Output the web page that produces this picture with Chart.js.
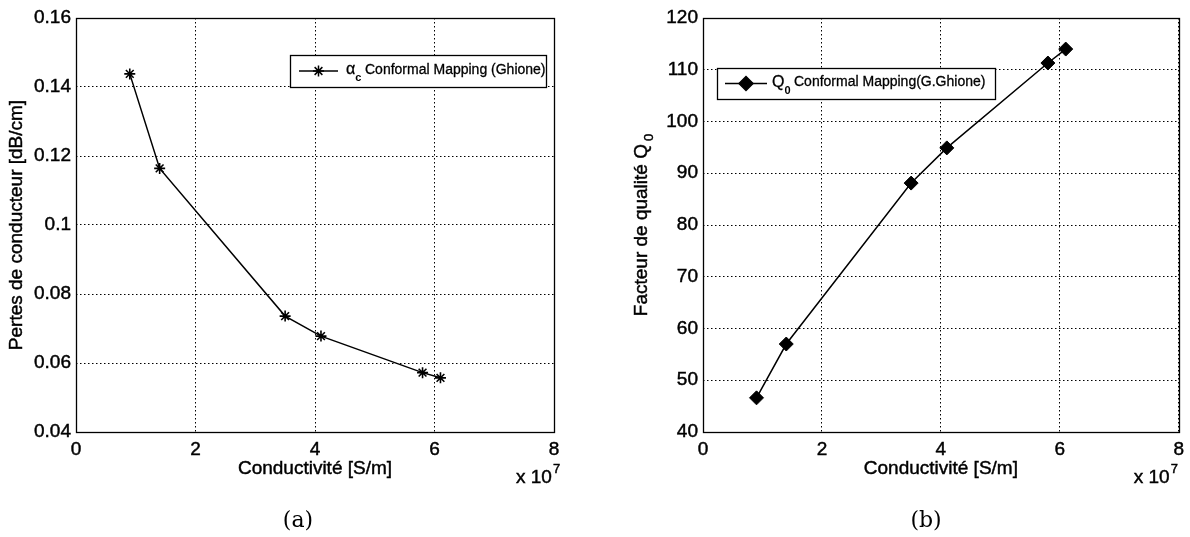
<!DOCTYPE html>
<html>
<head>
<meta charset="utf-8">
<script src="https://cdn.jsdelivr.net/npm/chart.js@4/dist/chart.umd.min.js"></script>
<style>
  html, body { margin: 0; padding: 0; background: #fff; }
  #wrap { position: relative; width: 1190px; height: 537px; overflow: hidden; background: #fff; }
  canvas { position: absolute; top: 0; }
  #c1 { left: 0; }
  #c2 { left: 600px; }
</style>
</head>
<body>
<div id="wrap">
  <canvas id="c1" width="600" height="537"></canvas>
  <canvas id="c2" width="590" height="537"></canvas>
</div>
<script>
// ---- data (conductivity in units of 1e7 S/m) ----
const conductivity = [0.9, 1.4, 3.5, 4.1, 5.8, 6.1];
const conductorLoss = [0.1438, 0.1164, 0.0736, 0.0678, 0.0572, 0.0557];   // dB/cm
const qualityFactor = [46.6, 57.0, 88.1, 94.9, 111.3, 114.0];              // Q0
const xTicks = [0, 2, 4, 6, 8];
const lossTicks = [0.04, 0.06, 0.08, 0.1, 0.12, 0.14, 0.16];
const qTicks = [40, 50, 60, 70, 80, 90, 100, 110, 120];

const FONT = "'Liberation Sans', Arial, sans-serif";
const SERIF = "'DejaVu Serif', 'Liberation Serif', serif";
const STROKE = 0.45;

function pts(xs, ys) { return xs.map((x, i) => ({ x: x, y: ys[i] })); }

function text(ctx, s, x, y) {
  ctx.fillText(s, x, y);
  ctx.strokeText(s, x, y);
}

function extrasPlugin(cfg) {
  return {
    id: 'extras',
    afterDraw(chart) {
      const ctx = chart.ctx;
      const a = chart.chartArea;
      ctx.save();
      // frame
      ctx.strokeStyle = '#000';
      ctx.lineWidth = 1.3;
      ctx.strokeRect(Math.round(a.left) + 0.5, Math.round(a.top) + 0.5,
                     Math.round(a.right - a.left), Math.round(a.bottom - a.top));
      ctx.fillStyle = '#000';
      ctx.lineWidth = STROKE;
      // x title
      ctx.font = "19px " + FONT;
      ctx.textAlign = 'center';
      ctx.textBaseline = 'middle';
      text(ctx, 'Conductivité [S/m]', (a.left + a.right) / 2, a.bottom + 37);
      // x 10^7
      ctx.textAlign = 'left';
      ctx.font = "19px " + FONT;
      text(ctx, 'x 10', a.right + cfg.expDx, a.bottom + 46);
      const w = ctx.measureText('x 10').width;
      ctx.font = "13px " + FONT;
      text(ctx, '7', a.right + cfg.expDx + w + 1, a.bottom + 37);
      // panel label
      ctx.font = "22px " + SERIF;
      ctx.textAlign = 'center';
      ctx.fillText(cfg.panel, cfg.panelX, 521);
      // y title (rotated)
      ctx.save();
      ctx.translate(cfg.yTitleX, (a.top + a.bottom) / 2);
      ctx.rotate(-Math.PI / 2);
      ctx.font = "19px " + FONT;
      ctx.textBaseline = 'middle';
      ctx.lineWidth = STROKE;
      if (cfg.ySub) {
        const mainW = ctx.measureText(cfg.yTitle).width;
        ctx.font = "13px " + FONT;
        const subW = ctx.measureText(cfg.ySub).width;
        const total = mainW + 3 + subW;
        ctx.textAlign = 'left';
        ctx.font = "19px " + FONT;
        text(ctx, cfg.yTitle, -total / 2, 0);
        ctx.font = "13px " + FONT;
        text(ctx, cfg.ySub, -total / 2 + mainW + 3, 7);
      } else {
        ctx.textAlign = 'center';
        text(ctx, cfg.yTitle, 0, 0);
      }
      ctx.restore();
      // legend
      const L = cfg.legend;
      ctx.fillStyle = '#fff';
      ctx.fillRect(L.x, L.y, L.w, L.h);
      ctx.strokeStyle = '#000';
      ctx.lineWidth = 1.3;
      ctx.strokeRect(L.x + 0.5, L.y + 0.5, L.w, L.h);
      const cy = L.y + L.h / 2;
      ctx.lineWidth = 1.5;
      ctx.beginPath();
      ctx.moveTo(L.x + L.lineStart, cy);
      ctx.lineTo(L.x + L.lineEnd, cy);
      ctx.stroke();
      const ds = chart.data.datasets[0];
      ctx.fillStyle = '#000';
      Chart.helpers.drawPoint(ctx, {
        pointStyle: ds.pointStyle, radius: ds.pointRadius, rotation: 0,
        borderWidth: ds.pointBorderWidth
      }, L.x + (L.lineStart + L.lineEnd) / 2, cy);
      ctx.fillStyle = '#000';
      ctx.textAlign = 'left';
      ctx.textBaseline = 'middle';
      ctx.lineWidth = 0.3;
      ctx.font = "16px " + FONT;
      let tx = L.x + L.symX;
      text(ctx, L.sym, tx, cy - 1);
      tx += ctx.measureText(L.sym).width;
      ctx.font = "bold 11px " + FONT;
      ctx.fillText(L.sub, tx, cy + 7);
      ctx.font = "14px " + FONT;
      text(ctx, L.text, L.x + L.textX, cy - 1);
      ctx.restore();
    }
  };
}

function makeChart(id, ys, yTicks, yMin, yMax, style, yWidth, padRight, extra) {
  const tickFont = { family: FONT, size: 19 };
  return new Chart(document.getElementById(id), {
    type: 'line',
    data: {
      datasets: [{
        data: pts(conductivity, ys),
        borderColor: '#000',
        backgroundColor: '#000',
        borderWidth: 1.5,
        tension: 0,
        pointStyle: style.pointStyle,
        pointRadius: style.radius,
        pointBorderWidth: style.borderWidth,
        pointBackgroundColor: '#000',
        pointBorderColor: '#000'
      }]
    },
    options: {
      responsive: false,
      animation: false,
      devicePixelRatio: 1,
      layout: { padding: { top: 18, right: padRight, bottom: 0, left: 0 } },
      plugins: { legend: { display: false }, tooltip: { enabled: false } },
      scales: {
        x: {
          type: 'linear', min: 0, max: 8,
          afterBuildTicks: s => { s.ticks = xTicks.map(v => ({ value: v })); },
          afterFit: s => { s.height = 105; },
          grid: { color: '#000', lineWidth: 1, drawTicks: false },
          border: { display: false, dash: [1.5, 2.5] },
          ticks: { color: '#000', font: tickFont, padding: 6, maxRotation: 0, autoSkip: false,
                   textStrokeColor: '#000', textStrokeWidth: STROKE,
                   callback: v => String(v) }
        },
        y: {
          type: 'linear', min: yMin, max: yMax,
          afterBuildTicks: s => { s.ticks = yTicks.map(v => ({ value: v })); },
          afterFit: s => { s.width = yWidth; },
          grid: { color: '#000', lineWidth: 1, drawTicks: false },
          border: { display: false, dash: [1.5, 2.5] },
          ticks: { color: '#000', font: tickFont, padding: 5, autoSkip: false,
                   textStrokeColor: '#000', textStrokeWidth: STROKE,
                   callback: v => String(Number(v.toFixed(2))) }
        }
      }
    },
    plugins: [extrasPlugin(extra)]
  });
}

makeChart('c1', conductorLoss, lossTicks, 0.04, 0.16,
  { pointStyle: 'star', radius: 5.5, borderWidth: 1.6 }, 76, 46,
  { panel: '(a)', panelX: 298, expDx: -38, yTitleX: 17, yTitle: 'Pertes de conducteur [dB/cm]',
    legend: { x: 290, y: 55, w: 256, h: 32, lineStart: 9, lineEnd: 48, symX: 56, sym: 'α', sub: 'c', textX: 75,
              text: 'Conformal Mapping (Ghione)' } });

makeChart('c2', qualityFactor, qTicks, 40, 120,
  { pointStyle: 'rectRot', radius: 7, borderWidth: 1 }, 103, 7,
  { panel: '(b)', panelX: 326, expDx: -45, yTitleX: 42, yTitle: 'Facteur de qualité Q', ySub: '0',
    legend: { x: 117, y: 68, w: 278, h: 31, lineStart: 8, lineEnd: 50, symX: 55, sym: 'Q', sub: '0', textX: 77,
              text: 'Conformal Mapping(G.Ghione)' } });
</script>
</body>
</html>
